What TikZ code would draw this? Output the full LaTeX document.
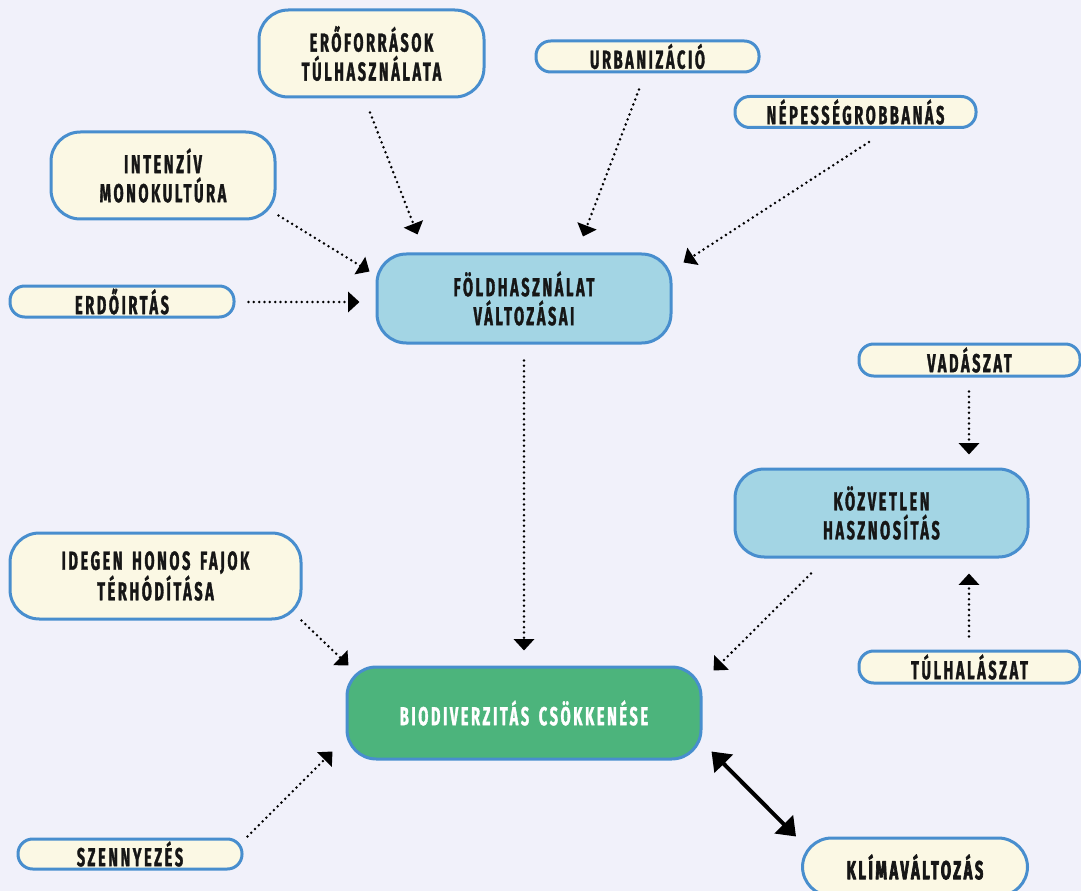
\documentclass[tikz,border=0pt]{standalone}
\usepackage{fontspec}
\usetikzlibrary{arrows.meta}
\newfontfamily\lblfont{Fira Sans}[FakeStretch=0.56,LetterSpace=10,WordSpace=1.6,FakeBold=1.2]
\newfontfamily\lblheavy{Fira Sans}[FakeStretch=0.56,LetterSpace=10,WordSpace=1.6,FakeBold=2.6]
\definecolor{bgcol}{RGB}{241,241,250}
\definecolor{paleyellow}{RGB}{251,248,228}
\definecolor{edgeblue}{RGB}{72,142,206}
\definecolor{hubblue}{RGB}{163,213,228}
\definecolor{biogreen}{RGB}{76,180,124}
\definecolor{inkcol}{RGB}{22,22,22}

\begin{document}
\begin{tikzpicture}[x=0.75pt, y=-0.75pt, line join=round,
          box/.style={draw=edgeblue, line width=2.25pt, fill=paleyellow, text=inkcol, align=center,
            inner sep=0pt, font=\lblfont\bfseries\fontsize{19.5}{21.75}\selectfont},
          pill/.style={box, rounded corners=11pt, minimum height=31*0.75pt},
          bigbox/.style={box, rounded corners=22pt, minimum height=87*0.75pt},
          hub/.style={bigbox, fill=hubblue},
          dep/.style={line width=2.1pt, dash pattern=on 0pt off 4pt, line cap=round,
            -{Triangle[length=8.5pt, width=15pt]}},
          mutual/.style={line width=3pt, {Triangle[length=13pt, width=19pt]}-{Triangle[length=13pt, width=19pt]}}]
          \useasboundingbox (0,0) rectangle (1081,891);
          \fill[bgcol] (0,0) rectangle (1081,891);
          \node[bigbox, minimum width=225*0.75pt] (ero) at (371.5,53.5) {ERŐFORRÁSOK\\TÚLHASZNÁLATA};
          \node[pill, minimum width=223*0.75pt] (urb) at (647.5,56.5) {URBANIZÁCIÓ};
          \node[pill, minimum width=241*0.75pt] (nep) at (855.5,112) {NÉPESSÉGROBBANÁS};
          \node[bigbox, minimum width=224*0.75pt] (int) at (163,175.5) {INTENZÍV\\MONOKULTÚRA};
          \node[pill, minimum width=224*0.75pt] (erd) at (122,301.5) {ERDŐIRTÁS};
          \node[hub, minimum width=294*0.75pt, minimum height=89*0.75pt] (fold) at (524,298.5) {FÖLDHASZNÁLAT\\VÁLTOZÁSAI};
          \node[pill, minimum width=221*0.75pt, minimum height=32*0.75pt] (vad) at (969.5,360) {VADÁSZAT};
          \node[hub, minimum width=293*0.75pt, minimum height=88*0.75pt] (kozv) at (881.5,513) {KÖZVETLEN\\HASZNOSÍTÁS};
          \node[bigbox, minimum width=291*0.75pt, minimum height=86*0.75pt] (ide) at (155.5,576) {IDEGEN HONOS FAJOK\\TÉRHÓDÍTÁSA};
          \node[bigbox, fill=biogreen, text=white, minimum width=354*0.75pt, minimum height=92*0.75pt] (bio) at (524,713) {BIODIVERZITÁS CSÖKKENÉSE};
          \node[pill, minimum width=221*0.75pt, minimum height=32*0.75pt] (tul) at (969.5,667) {TÚLHALÁSZAT};
          \node[pill, minimum width=224*0.75pt, minimum height=30*0.75pt] (szen) at (130,854) {SZENNYEZÉS};
          \node[box, rounded corners=22pt, minimum width=225*0.75pt, minimum height=58*0.75pt,
            font=\lblheavy\bfseries\fontsize{19.5}{21.75}\selectfont] (klima) at (915,867) {KLÍMAVÁLTOZÁS};
          \draw[dep] ([shift={(-1.5,14)}]ero.south) -- ([shift={(42,-18)}]fold.north west);
          \draw[dep] ([shift={(-8.5,16)}]urb.south) -- ([shift={(59,-16)}]fold.north);
          \draw[dep] ([shift={(13.5,13)}]nep.south) -- ([shift={(11,10)}]fold.north east);
          \draw[dep] ([shift={(2,-5)}]int.south east) -- ([shift={(-6,19)}]fold.north west);
          \draw[dep] ([shift={(13,0.5)}]erd.east) -- ([shift={(-16,3.5)}]fold.west);
          \draw[dep] ([shift={(0,16)}]fold.south) -- ([shift={(0,-15)}]bio.north);
          \draw[dep] ([shift={(-0.5,14)}]vad.south) -- ([shift={(87.5,-13)}]kozv.north);
          \draw[dep] ([shift={(-0.5,-13)}]tul.north) -- ([shift={(87.5,15)}]kozv.south);
          \draw[dep] ([shift={(-70.5,15)}]kozv.south) -- ([shift={(11,5)}]bio.north east);
          \draw[dep] ([shift={(-1,0)}]ide.south east) -- ([shift={(3,0)}]bio.north west);
          \draw[dep] ([shift={(4,-1)}]szen.north east) -- ([shift={(-13,-9)}]bio.south west);
          \draw[mutual] ([shift={(9,-9)}]bio.south east) -- ([shift={(-5,0)}]klima.north west);
        \end{tikzpicture}
\end{document}
